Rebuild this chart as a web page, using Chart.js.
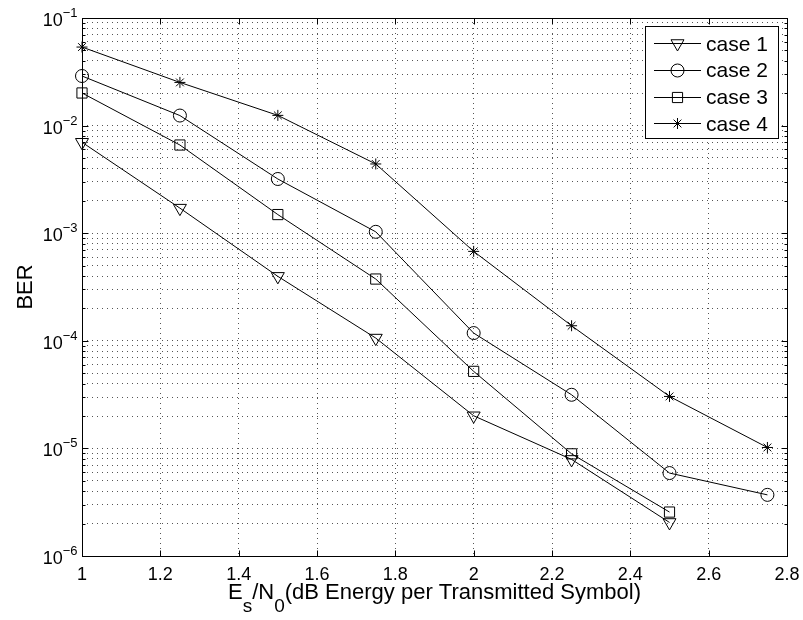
<!DOCTYPE html>
<html>
<head>
<meta charset="utf-8">
<script src="https://cdn.jsdelivr.net/npm/chart.js@4.4.1/dist/chart.umd.min.js"></script>
<style>
  html, body { margin: 0; padding: 0; background: #fff; }
  canvas { display: block; }
</style>
</head>
<body>
<canvas id="berChart" width="803" height="620"></canvas>
<script>
// values
const esn0 = [1, 1.25, 1.5, 1.75, 2, 2.25, 2.5, 2.75];
const case1 = [7.0e-3, 1.71e-3, 3.97e-4, 1.06e-4, 2.01e-5, 7.9e-6, 2.05e-6];
const case2 = [2.89e-2, 1.24e-2, 3.19e-3, 1.03e-3, 1.18e-4, 3.15e-5, 5.9e-6, 3.7e-6];
const case3 = [2.01e-2, 6.6e-3, 1.49e-3, 3.75e-4, 5.2e-5, 8.9e-6, 2.56e-6];
const case4 = [5.37e-2, 2.52e-2, 1.245e-2, 4.4e-3, 6.78e-4, 1.38e-4, 3.04e-5, 1.02e-5];
const seriesLabels = ['case 1', 'case 2', 'case 3', 'case 4'];
const xTicks = [1, 1.2, 1.4, 1.6, 1.8, 2, 2.2, 2.4, 2.6, 2.8];
const yExponents = [-6, -5, -4, -3, -2, -1];

const FONT = '"Liberation Sans", Arial, Helvetica, sans-serif';

// major decades plus 2..9 minor steps for the log grid
const yTickValues = [];
yExponents.forEach(function (e) {
    const base = Math.pow(10, e);
    yTickValues.push(base);
    if (e < -1) {
        for (let m = 2; m <= 9; m++) yTickValues.push(m * base);
    }
});

function toPoints(values) {
    return values.map(function (v, i) { return { x: esn0[i], y: v }; });
}

const markerStyles = [
    { pointStyle: 'triangle', radius: 7.5, rotation: 180 },
    { pointStyle: 'circle', radius: 6.5, rotation: 0 },
    { pointStyle: 'rect', radius: 7.2, rotation: 0 },
    { pointStyle: 'star', radius: 5.5, rotation: 0 },
];

const allSeries = [case1, case2, case3, case4];
const datasets = allSeries.map(function (values, i) {
    const m = markerStyles[i];
    return {
        label: seriesLabels[i],
        data: toPoints(values),
        borderColor: '#000',
        borderWidth: 1,
        backgroundColor: 'rgba(0,0,0,0)',
        pointStyle: m.pointStyle,
        pointRadius: m.radius,
        pointRotation: m.rotation,
        pointBorderColor: '#000',
        pointBackgroundColor: 'rgba(0,0,0,0)',
        pointBorderWidth: 1,
        tension: 0,
        clip: false,
    };
});

function fmtX(v) {
    return String(parseFloat(v.toFixed(1)));
}

// box, inward ticks and the text around the axes
const axesDecor = {
    id: 'axesDecor',
    beforeDatasetsDraw(chart) {
        const ctx = chart.ctx;
        const a = chart.chartArea;
        const xs = chart.scales.x, ys = chart.scales.y;
        const L = Math.round(a.left) + 0.5, R = Math.round(a.right) + 0.5;
        const T = Math.round(a.top) + 0.5, B = Math.round(a.bottom) + 0.5;
        ctx.save();
        ctx.strokeStyle = '#000';
        ctx.lineWidth = 1;
        ctx.beginPath();
        xTicks.forEach(function (v) {
            const px = Math.round(xs.getPixelForValue(v)) + 0.5;
            ctx.moveTo(px, B); ctx.lineTo(px, B - 6);
            ctx.moveTo(px, T); ctx.lineTo(px, T + 6);
        });
        yTickValues.forEach(function (v) {
            const py = Math.round(ys.getPixelForValue(v)) + 0.5;
            const major = Math.abs(Math.log10(v) - Math.round(Math.log10(v))) < 1e-9;
            const len = major ? 6 : 3;
            ctx.moveTo(L, py); ctx.lineTo(L + len, py);
            ctx.moveTo(R, py); ctx.lineTo(R - len, py);
        });
        ctx.stroke();
        ctx.strokeRect(L, T, R - L, B - T);
        ctx.restore();
    },
    afterDraw(chart) {
        const ctx = chart.ctx;
        const a = chart.chartArea;
        const xs = chart.scales.x, ys = chart.scales.y;
        ctx.save();
        ctx.fillStyle = '#000';

        // x tick labels
        ctx.font = '18px ' + FONT;
        ctx.textAlign = 'center';
        ctx.textBaseline = 'alphabetic';
        xTicks.forEach(function (v) {
            ctx.fillText(fmtX(v), xs.getPixelForValue(v), a.bottom + 23.5);
        });

        // y tick labels 10^e
        yExponents.forEach(function (e) {
            const py = ys.getPixelForValue(Math.pow(10, e));
            const exp = '\u2212' + Math.abs(e);
            ctx.font = '13px ' + FONT;
            const expW = ctx.measureText(exp).width;
            const expX = a.left - 4.5 - expW;
            ctx.textAlign = 'left';
            ctx.fillText(exp, expX, py - 1);
            ctx.font = '18px ' + FONT;
            ctx.textAlign = 'right';
            ctx.fillText('10', expX, py + 8);
        });

        // y title
        ctx.save();
        ctx.font = '22px ' + FONT;
        ctx.textAlign = 'center';
        ctx.translate(31.5, (a.top + a.bottom) / 2);
        ctx.rotate(-Math.PI / 2);
        ctx.fillText('BER', 0, 0);
        ctx.restore();

        // x title with subscripts
        const parts = [
            { t: 'E', sub: false },
            { t: 's', sub: true },
            { t: '/N', sub: false },
            { t: '0', sub: true },
            { t: '(dB Energy per Transmitted Symbol)', sub: false },
        ];
        let total = 0;
        parts.forEach(function (p) {
            ctx.font = (p.sub ? '19px ' : '22px ') + FONT;
            p.w = ctx.measureText(p.t).width;
            total += p.w;
        });
        let cx = (a.left + a.right) / 2 - total / 2;
        const base = a.bottom + 43;
        ctx.textAlign = 'left';
        parts.forEach(function (p) {
            ctx.font = (p.sub ? '19px ' : '22px ') + FONT;
            ctx.fillText(p.t, cx, p.sub ? base + 12.5 : base);
            cx += p.w;
        });

        // legend box inside the axes, top right
        const box = { left: 645.5, top: 26.5, right: 778.5, bottom: 138.5 };
        ctx.fillStyle = '#fff';
        ctx.fillRect(box.left, box.top, box.right - box.left, box.bottom - box.top);
        ctx.strokeStyle = '#000';
        ctx.lineWidth = 1;
        ctx.strokeRect(box.left, box.top, box.right - box.left, box.bottom - box.top);
        chart.data.datasets.forEach(function (ds, i) {
            const y = 43 + i * 26.8;
            ctx.strokeStyle = '#000';
            ctx.lineWidth = 1;
            ctx.beginPath();
            ctx.moveTo(654, Math.round(y) + 0.5);
            ctx.lineTo(701, Math.round(y) + 0.5);
            ctx.stroke();
            ctx.fillStyle = 'rgba(0,0,0,0)';
            Chart.helpers.drawPoint(ctx, {
                pointStyle: ds.pointStyle,
                radius: ds.pointRadius,
                rotation: ds.pointRotation,
                borderWidth: 1,
            }, 677.5, Math.round(y) + 0.5);
            ctx.fillStyle = '#000';
            ctx.font = '21px ' + FONT;
            ctx.textAlign = 'left';
            ctx.fillText(ds.label, 706, y + 7.5);
        });
        ctx.restore();
    },
};

const ctx = document.getElementById('berChart').getContext('2d');
new Chart(ctx, {
    type: 'line',
    data: { datasets: datasets },
    options: {
        responsive: false,
        animation: false,
        devicePixelRatio: 1,
        layout: { padding: { left: 82, top: 18, right: 16, bottom: 64 } },
        plugins: {
            legend: { display: false },
            tooltip: { enabled: false },
        },
        scales: {
            x: {
                type: 'linear',
                min: 1,
                max: 2.8,
                afterBuildTicks: function (scale) {
                    scale.ticks = xTicks.map(function (v) { return { value: v }; });
                },
                ticks: { display: false },
                grid: { color: '#555', lineWidth: 1, drawTicks: false },
                border: { display: false, dash: [1, 4] },
            },
            y: {
                type: 'logarithmic',
                min: 1e-6,
                max: 1e-1,
                afterBuildTicks: function (scale) {
                    scale.ticks = yTickValues.map(function (v) { return { value: v }; });
                },
                ticks: { display: false },
                grid: { color: '#555', lineWidth: 1, drawTicks: false },
                border: { display: false, dash: [1, 4] },
            },
        },
    },
    plugins: [axesDecor],
});
</script>
</body>
</html>
